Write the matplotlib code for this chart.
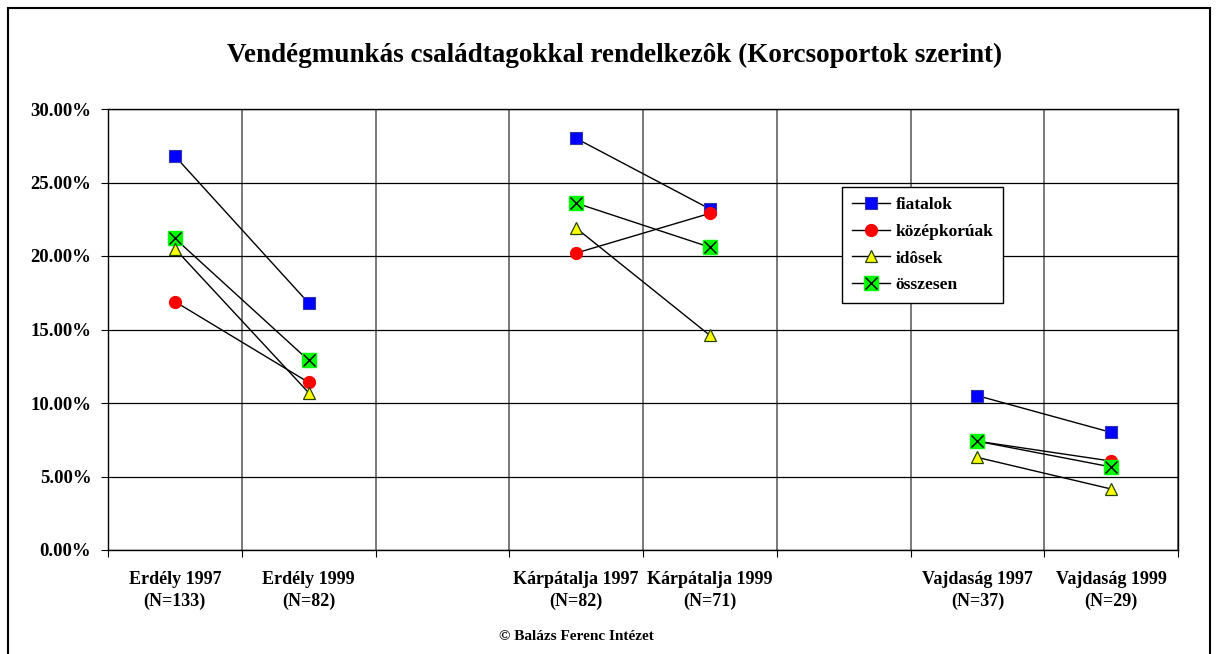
import numpy as np
import matplotlib.pyplot as plt
from matplotlib.legend_handler import HandlerTuple
from matplotlib.ticker import FuncFormatter, FixedLocator

plt.rcParams['font.family'] = ['Liberation Serif', 'DejaVu Serif']
plt.rcParams['font.weight'] = 'bold'

# kategóriák (üres helyek a régiók között)
categories = ['Erdély 1997\n(N=133)', 'Erdély 1999\n(N=82)', '',
              'Kárpátalja 1997\n(N=82)', 'Kárpátalja 1999\n(N=71)', '',
              'Vajdaság 1997\n(N=37)', 'Vajdaság 1999\n(N=29)']

nan = np.nan
fiatalok = [26.8, 16.8, nan, 28.0, 23.2, nan, 10.5, 8.0]
kozepkoruak = [16.9, 11.4, nan, 20.2, 22.9, nan, 7.4, 6.05]
idosek = [20.5, 10.7, nan, 21.9, 14.6, nan, 6.3, 4.15]
osszesen = [21.2, 12.9, nan, 23.6, 20.6, nan, 7.4, 5.65]

fig = plt.figure(figsize=(12.16, 6.54), dpi=100)
ax = fig.add_axes([108 / 1216, 1 - 550 / 654, (1178 - 108) / 1216, (550 - 109) / 654])

x = np.arange(len(categories)) + 0.5

h1, = ax.plot(x, fiatalok, color='black', lw=1, marker='s', ms=8.3,
              mfc='#0000ff', mec='#3333aa', mew=0.8, zorder=3)
h2, = ax.plot(x, kozepkoruak, color='black', lw=1, marker='o', ms=8.5,
              mfc='#ff0000', mec='#ff0000', zorder=3.1)
h4, = ax.plot(x, osszesen, color='black', lw=1, marker='s', ms=10.3,
              mfc='#00ff00', mec='#00ff00', zorder=3.2)
h4x, = ax.plot(x, osszesen, ls='none', marker='x', ms=9, mec='black',
               mew=1, zorder=3.3)
h3, = ax.plot(x, idosek, color='black', lw=1, marker='^', ms=8,
              mfc='#ffff00', mec='#224400', mew=0.9, zorder=3.4)

ax.set_xlim(0, len(categories))
ax.set_ylim(0, 30)
ax.set_yticks(np.arange(0, 31, 5))
ax.yaxis.set_major_formatter(FuncFormatter(lambda v, p: f'{v:.2f}%'))
ax.xaxis.set_major_locator(FixedLocator(np.arange(0, len(categories) + 1)))
ax.xaxis.set_minor_locator(FixedLocator(x))
ax.set_xticklabels([''] * (len(categories) + 1))
ax.set_xticklabels(categories, minor=True)
ax.tick_params(axis='x', which='minor', length=0, pad=15, labelsize=13)
ax.tick_params(axis='x', which='major', direction='out', length=5)
ax.tick_params(axis='y', direction='out', length=5, labelsize=13.5, pad=7)
for lab in ax.get_xticklabels(minor=True) + ax.get_yticklabels():
    lab.set_fontweight('bold')
    lab.set_multialignment('center')
    lab.set_linespacing(1.4)

ax.grid(True, axis='y', which='major', color='black', lw=0.9)
ax.grid(True, axis='x', which='major', color='#555555', lw=1.1)
ax.set_axisbelow(True)
for s in ax.spines.values():
    s.set_color('black')
    s.set_linewidth(1)

leg = ax.legend([h1, h2, h3, (h4, h4x)], ['fiatalok', 'középkorúak', 'idôsek', 'összesen'],
                handler_map={tuple: HandlerTuple(ndivide=1)},
                loc='upper left', bbox_to_anchor=((842 - 108) / 1070, 1 - (187 - 109) / 441),
                frameon=True, fancybox=False, edgecolor='black', framealpha=1,
                prop={'weight': 'bold', 'size': 12.5}, handlelength=2.2,
                borderpad=0.55, labelspacing=0.62, handletextpad=0.35,
                borderaxespad=0)
leg.get_frame().set_linewidth(1)

fig.text(615 / 1216, 1 - 55 / 654, 'Vendégmunkás családtagokkal rendelkezôk (Korcsoportok szerint)',
         ha='center', va='center', fontsize=19.5, fontweight='bold')
fig.text(576 / 1216, 1 - 636 / 654, '© Balázs Ferenc Intézet', ha='center', va='center',
         fontsize=11, fontweight='bold')

# külső keret
fig.add_artist(plt.Rectangle((8 / 1216, -0.01), 1202 / 1216, 1 - 8 / 654 + 0.01,
                             transform=fig.transFigure, fill=False, ec='black', lw=1.5))

fig.savefig('out.png', dpi=100)
